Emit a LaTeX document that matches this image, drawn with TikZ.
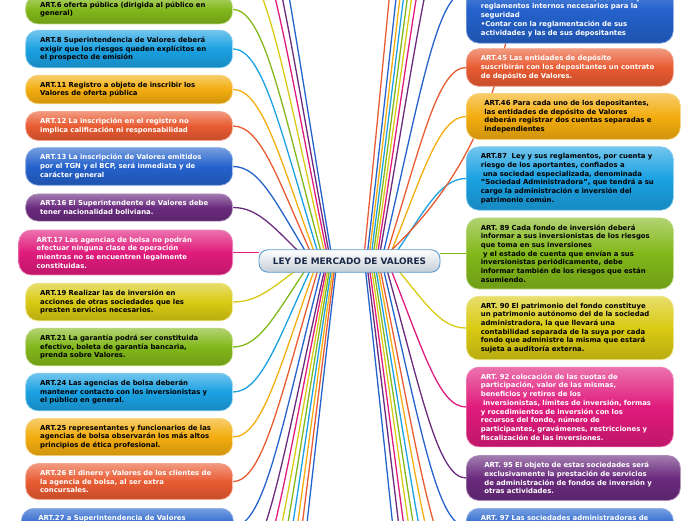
\documentclass[tikz,border=0pt]{standalone}
\usepackage{fontspec}
\setmainfont{DejaVu Sans}
\usepackage{tikz}
\usetikzlibrary{calc}
\definecolor{cgrn}{HTML}{82B81A}
\definecolor{clbl}{HTML}{1BA1E2}
\definecolor{corg}{HTML}{F3AD0F}
\definecolor{cred}{HTML}{E95B32}
\definecolor{cblu}{HTML}{2462CC}
\definecolor{cpur}{HTML}{6A2B7E}
\definecolor{cpnk}{HTML}{E01B7C}
\definecolor{cylw}{HTML}{D9CA13}
\definecolor{chub}{HTML}{C3CDD5}
\definecolor{cedge}{HTML}{5B9BD0}
\definecolor{cnavy}{HTML}{1C2A4A}
\pgfdeclarelayer{bg}
\pgfsetlayers{bg,main}

\begin{document}
\begin{tikzpicture}[x=1pt, y=-1pt,
      leaf/.style={rounded corners=12.5pt, text width=178pt, align=left, inner xsep=14.5pt, inner ysep=6.6pt,
        font=\fontsize{6.9pt}{8.7pt}\selectfont\bfseries, draw=#1!55!white, line width=0.7pt,
        top color=#1!62!white, bottom color=#1!85!black, middle color=#1, text=black},
      dleaf/.style={leaf=#1, text=white},
      wide/.style={inner xsep=18pt},
      link/.style={draw=#1, line width=1.3pt},
      hub/.style={draw=cedge, line width=0.9pt, rounded corners=9pt, top color=white, bottom color=chub,
        minimum width=181pt, minimum height=22.5pt, inner sep=0pt, font=\fontsize{8.9pt}{10pt}\selectfont\bfseries, text=cnavy}]
  \useasboundingbox (0,0) rectangle (696,520);
  \node[hub] (ley) at (349.5,261) {LEY DE MERCADO DE VALORES};

  \node[leaf=cgrn, anchor=east] (a6) at (233,9.5) {ART.6 oferta pública (dirigida al público en\\general)};
  \node[leaf=clbl, anchor=east] (a8) at (233,49) {ART.8 Superintendencia de Valores deberá\\exigir que los riesgos queden explícitos en\\el prospecto de emisión};
  \node[leaf=corg, anchor=east] (a11) at (233,89.5) {ART.11 Registro a objeto de inscribir los\\Valores de oferta pública};
  \node[dleaf=cred, anchor=east] (a12) at (233,126) {ART.12 La inscripción en el registro no\\implica calificación ni responsabilidad};
  \node[dleaf=cblu, anchor=east] (a13) at (233,166.5) {ART.13 La inscripción de Valores emitidos\\por el TGN y el BCP, será inmediata y de\\carácter general};
  \node[dleaf=cpur, anchor=east] (a16) at (233,207.5) {ART.16 El Superintendente de Valores debe\\tener nacionalidad boliviana.};
  \node[dleaf=cpnk, wide, anchor=east] (a17) at (233,252.5) {ART.17 Las agencias de bolsa no podrán\\efectuar ninguna clase de operación\\mientras no se encuentren legalmente\\constituidas.};
  \node[leaf=cylw, anchor=east] (a19) at (233,302) {ART.19 Realizar las de inversión en\\acciones de otras sociedades que les\\presten servicios necesarios.};
  \node[leaf=cgrn, anchor=east] (a21) at (233,347) {ART.21 La garantía podrá ser constituida\\efectivo, boleta de garantía bancaria,\\prenda sobre Valores.};
  \node[leaf=clbl, anchor=east] (a24) at (233,392) {ART.24 Las agencias de bolsa deberán\\mantener contacto con los inversionistas y\\el público en general.};
  \node[leaf=corg, anchor=east] (a25) at (233,437) {ART.25 representantes y funcionarios de las\\agencias de bolsa observarán los más altos\\principios de ética profesional.};
  \node[dleaf=cred, anchor=east] (a26) at (233,481.5) {ART.26 El dinero y Valores de los clientes de\\la agencia de bolsa, al ser extra\\concursales.};
  \node[dleaf=cblu, inner xsep=17pt, anchor=north west] (a27) at (21,508) {ART.27 a Superintendencia de Valores\\\mbox{}\\\mbox{}};

  \node[dleaf=cblu, anchor=south west] (r1) at (466,43.5) {\mbox{}\\\mbox{}\\•Contar con las instalaciones, sistemas y\\reglamentos internos necesarios para la\\seguridad\\•Contar con la reglamentación de sus\\actividades y las de sus depositantes};
  \node[dleaf=cred, anchor=west] (r2) at (466,67.5) {ART.45 Las entidades de depósito\\suscribirán con los depositantes un contrato\\de depósito de Valores.};
  \node[leaf=corg, wide, anchor=west] (r3) at (466,116.5) {ART.46 Para cada uno de los depositantes,\\las entidades de depósito de Valores\\deberán registrar dos cuentas separadas e\\independientes};
  \node[leaf=clbl, anchor=west] (r4) at (466,178.5) {ART.87\ \ Ley y sus reglamentos, por cuenta y\\riesgo de los aportantes, confiados a\\\hspace*{2.2pt}una sociedad especializada, denominada\\"Sociedad Administradora", que tendrá a su\\cargo la administración e inversión del\\patrimonio común.};
  \node[leaf=cgrn, anchor=west] (r5) at (466,253.5) {ART. 89 Cada fondo de inversión deberá\\informar a sus inversionistas de los riesgos\\que toma en sus inversiones\\\hspace*{2.2pt}y el estado de cuenta que envían a sus\\inversionistas periódicamente, debe\\informar también de los riesgos que están\\asumiendo.};
  \node[leaf=cylw, anchor=west] (r6) at (466,328) {ART. 90 El patrimonio del fondo constituye\\un patrimonio autónomo del de la sociedad\\administradora, la que llevará una\\contabilidad separada de la suya por cada\\fondo que administre la misma que estará\\sujeta a auditoría externa.};
  \node[dleaf=cpnk, anchor=west] (r7) at (466,407) {ART. 92 colocación de las cuotas de\\participación, valor de las mismas,\\beneficios y retiros de los\\\hspace*{2.2pt}inversionistas, límites de inversión, formas\\y rocedimientos de inversión con los\\recursos del fondo, número de\\participantes, gravámenes, restricciones y\\fiscalización de las inversiones.};
  \node[dleaf=cpur, wide, anchor=west] (r8) at (466,478) {ART. 95 El objeto de estas sociedades será\\exclusivamente la prestación de servicios\\de administración de fondos de inversión y\\otras actividades.};
  \node[dleaf=cblu, anchor=north west] (r9) at (466,508) {ART. 97 Las sociedades administradoras de\\\mbox{}\\\mbox{}};

  \coordinate (r1in) at ([yshift=18pt]r1.west);
  \coordinate (lt1) at (233,-40);
  \coordinate (lt2) at (233,-90);
  \coordinate (lt3) at (233,-130);
  \coordinate (lt4) at (233,-180);
  \coordinate (lb1) at (233,572);
  \coordinate (lb2) at (233,612);
  \coordinate (lb3) at (233,652);
  \coordinate (lb4) at (233,695);
  \coordinate (lb5) at (233,740);
  \coordinate (lb6) at (233,790);
  \coordinate (lb7) at (233,850);
  \coordinate (lb8) at (233,920);
  \coordinate (rt1) at (466,-110);
  \coordinate (rt2) at (466,-170);
  \coordinate (rt3) at (466,-210);
  \coordinate (rt4) at (466,-250);
  \coordinate (rt5) at (466,-290);
  \coordinate (rt6) at (466,-330);
  \coordinate (rt7) at (466,-380);
  \coordinate (rt8) at (466,-500);
  \coordinate (rb1) at (466,578);
  \coordinate (rb2) at (466,620);
  \coordinate (rb3) at (466,660);
  \coordinate (rb4) at (466,700);
  \coordinate (rb5) at (466,740);
  \coordinate (rb6) at (466,790);
  \coordinate (rb7) at (466,850);
  \coordinate (rb8) at (466,950);
  \coordinate (rx) at (515,-15);

  \begin{pgfonlayer}{bg}
    \foreach \tgt/\col/\sx in {a16.east/cpur/-41pt, a13.east/cblu/-38pt, a12.east/cred/-35pt, a11.east/corg/-32pt,
        a8.east/clbl/-29pt, a6.east/cgrn/-26pt, lt1/cylw/-23pt, lt2/cpnk/-21pt, lt3/cpur/-19pt, lt4/cblu/-17pt,
        a19.east/cylw/-41pt, a21.east/cgrn/-38pt, a24.east/clbl/-35pt, a25.east/corg/-32pt, a26.east/cred/-29pt,
        a27.east/cblu/-26pt, lb1/cpur/-23pt, lb2/cpnk/-21.5pt, lb3/cylw/-20pt, lb4/cgrn/-18.5pt, lb5/clbl/-17pt,
        lb6/corg/-15.5pt, lb7/cred/-14pt, lb8/cblu/-12.5pt,
        r4.west/clbl/41pt, r3.west/corg/38pt, r2.west/cred/35pt, r1in/cblu/32pt, rt1/cpur/29pt, rt2/cpnk/27pt,
        rt3/cylw/25pt, rt4/cgrn/23pt, rt5/clbl/21pt, rt6/corg/19pt, rt7/cblu/17pt, rt8/cred/14pt,
        r6.west/cylw/41pt, r7.west/cpnk/38pt, r8.west/cpur/35pt, r9.west/cblu/32pt, rb1/cred/29pt, rb2/corg/27pt,
        rb3/clbl/25pt, rb4/cgrn/23pt, rb5/cylw/21pt, rb6/cpnk/19pt, rb7/cpur/17pt, rb8/cblu/15pt}
      \draw[link=\col] let \p1=([xshift=\sx]ley.center), \p2=(\tgt) in
        (\p1) .. controls +({0.45*(\x2-\x1)},{0.6*(\y2-\y1)}) and +({0.35*(\x1-\x2)},0pt) .. (\p2);
    \draw[link=cpnk] (a17.east) -- (a17.east -| ley.west);
    \draw[link=cgrn] (r5.west) -- (r5.west -| ley.east);
    \draw[link=cred] ([xshift=30pt]ley.center) .. controls +(85,-75) and +(-12,110) .. (rx);
  \end{pgfonlayer}
\end{tikzpicture}
\end{document}
